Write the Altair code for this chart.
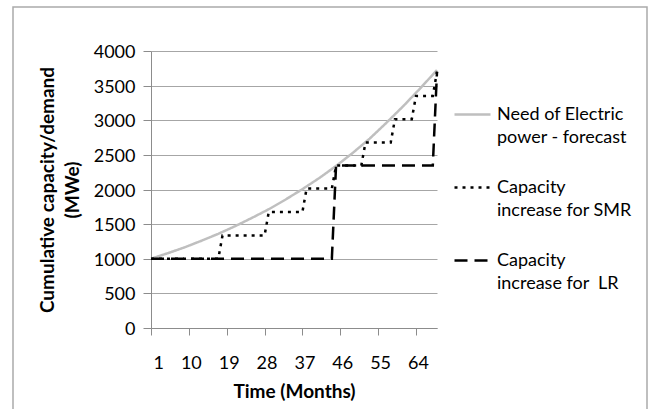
import altair as alt
import pandas as pd

# ---- data ----
series_names = [
    "Need of Electric|power - forecast",
    "Capacity|increase for SMR",
    "Capacity|increase for\u00a0 LR",
]

months_demand = [1, 5, 9, 13, 17, 21, 25, 29, 33, 37, 41, 45, 49, 53, 57, 61, 65, 69]
demand = [1000, 1080, 1165, 1260, 1360, 1470, 1590, 1715, 1855, 2005, 2165, 2340,
          2530, 2735, 2965, 3205, 3460, 3725]

months_smr = [1, 17, 18, 28, 29, 37, 38, 44, 45, 51, 52, 58, 59, 63, 64, 68, 69]
smr = [1000, 1000, 1335, 1335, 1675, 1675, 2015, 2015, 2345, 2345, 2680, 2680,
       3015, 3015, 3350, 3350, 3700]

months_lr = [1, 44, 45, 68, 69]
lr = [1000, 1000, 2345, 2345, 3700]

x_ticks = [1, 10, 19, 28, 37, 46, 55, 64]
y_ticks = [0, 500, 1000, 1500, 2000, 2500, 3000, 3500, 4000]

colors = ["#bfbfbf", "#000000", "#000000"]
dashes = [[1, 0], [3, 5], [13, 7]]

rows = []
for m, v in zip(months_demand, demand):
    rows.append({"month": m, "value": v, "series": series_names[0]})
for m, v in zip(months_smr, smr):
    rows.append({"month": m, "value": v, "series": series_names[1]})
for m, v in zip(months_lr, lr):
    rows.append({"month": m, "value": v, "series": series_names[2]})
df = pd.DataFrame(rows)

FONT = "Lato"

leg = alt.Legend(
    title=None,
    orient="none",
    legendX=302,
    legendY=44,
    padding=0,
    labelExpr="split(datum.label, '|')",
    labelLimit=400,
    labelFont=FONT,
    labelFontSize=18,
    labelColor="black",
    labelBaseline="middle",
    labelOffset=5,
    symbolType="stroke",
    symbolSize=1296,
    symbolStrokeWidth=2.5,
    rowPadding=21,
)

base = alt.Chart(df).mark_line(strokeWidth=2.5).encode(
    x=alt.X(
        "month:Q",
        scale=alt.Scale(domain=[1, 69], nice=False, zero=False),
        axis=alt.Axis(
            values=x_ticks,
            title="Time (Months)",
            grid=False,
            tickSize=7,
            labelPadding=19,
            labelOffset=2,
            titleY=63,
            titleBaseline="middle",
        ),
    ),
    y=alt.Y(
        "value:Q",
        scale=alt.Scale(domain=[0, 4000], nice=False),
        axis=alt.Axis(
            values=y_ticks,
            format="d",
            title=["Cumulative capacity/demand", "(MWe)"],
            grid=True,
            tickSize=8,
            labelPadding=8,
            labelOffset=1.5,
            titleX=-103.5,
            titleY=138.5,
            titleAngle=270,
            titleBaseline="middle",
            titleAlign="center",
            titleLineHeight=25,
        ),
    ),
    color=alt.Color("series:N", scale=alt.Scale(domain=series_names, range=colors), legend=leg),
    strokeDash=alt.StrokeDash("series:N", scale=alt.Scale(domain=series_names, range=dashes), legend=leg),
)

layers = [base.transform_filter(alt.datum.series == s) for s in series_names]

frame = alt.Chart(pd.DataFrame({"a": [0]})).mark_rect(
    fillOpacity=0, stroke="#aaaaaa", strokeWidth=1.5
).encode(
    x=alt.value(-138), x2=alt.value(496), y=alt.value(-44), y2=alt.value(380)
)

chart = alt.layer(frame, *layers).properties(
    width=286,
    height=277,
    padding={"left": 151, "top": 51, "right": 214, "bottom": 81},
    autosize=alt.AutoSizeParams(type="none"),
).configure_view(stroke=None).configure_axis(
    labelFont=FONT,
    titleFont=FONT,
    labelFontSize=18,
    titleFontSize=19,
    titleFontWeight="bold",
    labelColor="black",
    titleColor="black",
    domainColor="#8c8c8c",
    tickColor="#8c8c8c",
    gridColor="#a6a6a6",
    domainWidth=1,
    tickWidth=1,
    gridWidth=1,
)
chart.config.style = {"guide-label": {"lineHeight": 23}}

chart.save("out.html", embed_options={"renderer": "svg", "actions": False})
